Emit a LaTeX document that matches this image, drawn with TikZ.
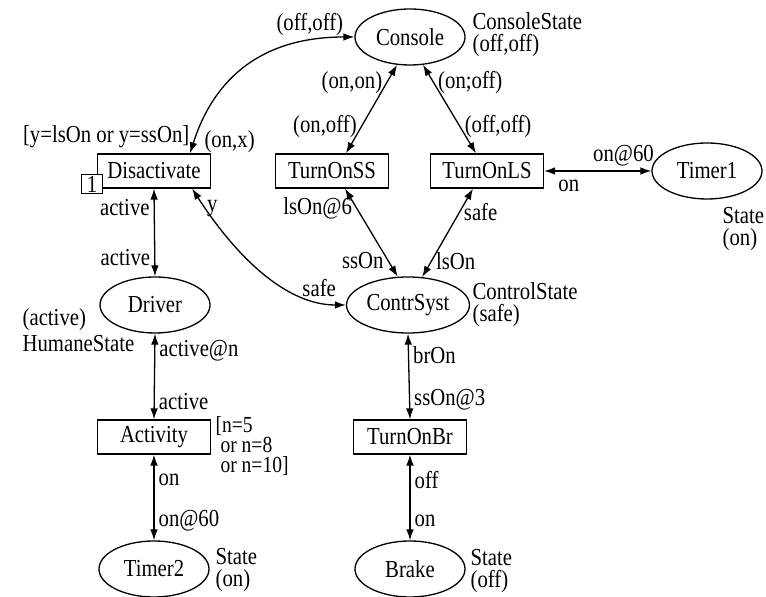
\documentclass[tikz,border=0pt]{standalone}
\usepackage{fontspec}
\setmainfont{Liberation Serif}[FakeStretch=0.85]
\usetikzlibrary{arrows.meta}
\usetikzlibrary{shapes.geometric}
\usetikzlibrary{positioning}

\tikzset{
  place/.style={ellipse, draw, minimum width=55pt, minimum height=28pt, inner sep=1pt},
  trans/.style={rectangle, draw, minimum width=56.5pt, minimum height=17pt, inner sep=1pt},
  flow/.style={{Latex[length=5.5pt,width=3.8pt]}-{Latex[length=5.5pt,width=3.8pt]}},
  note/.style={align=left, inner sep=0pt},
  lbl/.style={inner sep=2pt}
}

\begin{document}
\begin{tikzpicture}[x=0.5pt, y=-0.5pt, font=\fontsize{12.2}{11}\selectfont, line width=0.65pt]
  \useasboundingbox (0, 0) rectangle (766, 597);
  % places
  \node [place] (console) at (410, 37) {Console};
  \node [place] (timer1) at (707, 171) {Timer1};
  \node [place] (driver) at (155, 305) {Driver};
  \node [place] (contr) at (408, 305) {ContrSyst};
  \node [place] (timer2) at (154, 569) {Timer2};
  \node [place] (brake) at (410, 569) {Brake};
  % transitions
  \node [trans] (dis) at (154, 171) {Disactivate};
  \node [trans] (ss) at (332, 171) {TurnOnSS};
  \node [trans] (ls) at (487, 171) {TurnOnLS};
  \node [trans] (act) at (154, 437) {Activity};
  \node [trans] (br) at (410, 437) {TurnOnBr};
  \node [draw, fill=white, minimum width=10.5pt, minimum height=9.5pt, inner sep=0pt] (prio) at (92, 184) {1};
  % inscriptions
  \node [note, anchor=west] (consst) at (472, 35) {ConsoleState\\(off,off)};
  \node [note, anchor=west] (contrst) at (472, 305) {ControlState\\(safe)};
  \node [note, anchor=west] (t1st) at (722, 229) {State\\(on)};
  \node [note, anchor=west] (drst) at (22, 330) {(active)\\[2pt]HumaneState};
  \node [note, anchor=west] (t2st) at (215, 570) {State\\(on)};
  \node [note, anchor=west] (brst) at (470, 571) {State\\(off)};
  \node [note, anchor=east] (disgrd) at (190, 137) {[y=lsOn or y=ssOn]};
  \node [note, anchor=west, font=\fontsize{11.5}{10}\selectfont] (actgrd) at (215, 446) {[n=5\\\ or n=8\\\ or n=10]};
  % arcs
  \draw [flow] ([xshift=18pt]dis.north) .. controls (215, 75) and (265, 37) .. (console.west)
    node [lbl, pos=0.05, anchor=west, xshift=3pt] {(on,x)}
    node [lbl, pos=0.82, anchor=south] {(off,off)};
  \draw [flow] ([xshift=-9.5pt]dis.south east) .. controls (235, 255) and (285, 305) .. (contr.west)
    node [lbl, pos=0.08, anchor=west, yshift=-2pt] {y}
    node [lbl, pos=0.85, anchor=south] {safe};
  \draw [flow] (dis.south) -- (driver.north)
    node [lbl, pos=0.22, anchor=east] {active}
    node [lbl, pos=0.78, anchor=east] {active};
  \draw [flow] (driver.south) -- (act.north)
    node [lbl, pos=0.2, anchor=west] {active@n}
    node [lbl, pos=0.79, anchor=west] {active};
  \draw [flow] (act.south) -- (timer2.north)
    node [lbl, pos=0.3, anchor=west] {on}
    node [lbl, pos=0.77, anchor=west] {on@60};
  \draw [flow] (console.245) -- ([xshift=7pt]ss.north)
    node [lbl, pos=0.2, anchor=east] {(on,on)}
    node [lbl, pos=0.7, anchor=east] {(on,off)};
  \draw [flow] (console.295) -- ([xshift=-5.5pt]ls.north)
    node [lbl, pos=0.2, anchor=west] {(on;off)}
    node [lbl, pos=0.7, anchor=west] {(off,off)};
  \draw [flow] ([xshift=6.5pt]ss.south) -- (contr.110)
    node [lbl, pos=0.22, anchor=east] {lsOn@6}
    node [lbl, pos=0.82, anchor=east] {ssOn};
  \draw [flow] ([xshift=-7pt]ls.south) -- (contr.63)
    node [lbl, pos=0.27, anchor=west] {safe}
    node [lbl, pos=0.82, anchor=west] {lsOn};
  \draw [flow] (ls.east) -- (timer1.west)
    node [lbl, pos=0.74, anchor=south] {on@60}
    node [lbl, pos=0.23, anchor=north, yshift=-2pt] {on};
  \draw [flow] (contr.south) -- (br.north)
    node [lbl, pos=0.25, anchor=west] {brOn}
    node [lbl, pos=0.77, anchor=west] {ssOn@3};
  \draw [flow] (br.south) -- (brake.north)
    node [lbl, pos=0.3, anchor=west] {off}
    node [lbl, pos=0.77, anchor=west] {on};
\end{tikzpicture}
\end{document}
